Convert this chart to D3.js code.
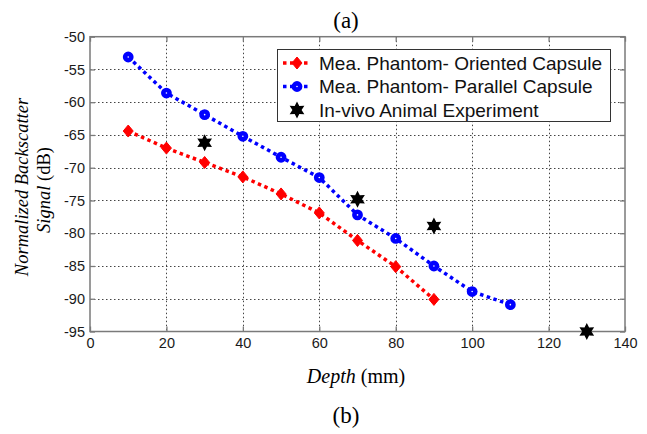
<!DOCTYPE html>
<html>
<head>
<meta charset="utf-8">
<script src="https://cdn.jsdelivr.net/npm/d3@7"></script>
<style>
  html, body { margin: 0; padding: 0; background: #fff; }
  svg { display: block; }
</style>
</head>
<body>
<svg id="chart" width="647" height="434"></svg>
<script>
// Depth samples (mm)
const depthOriented = [10, 20, 30, 40, 50, 60, 70, 80, 90];
const depthParallel = [10, 20, 30, 40, 50, 60, 70, 80, 90, 100, 110];
const depthInVivo = [30, 70, 90, 130];

// Normalized backscatter signal (dB)
const orientedCapsule = [-64.4, -67.0, -69.2, -71.4, -74.0, -76.9, -81.1, -85.1, -90.1];
const parallelCapsule = [-53.1, -58.6, -61.9, -65.2, -68.4, -71.5, -77.2, -80.8, -85.0, -88.9, -90.9];
const inVivoAnimal = [-66.2, -74.8, -78.9, -95.0];

// Axis ticks
const xTicks = [0, 20, 40, 60, 80, 100, 120, 140];
const yTicks = [-95, -90, -85, -80, -75, -70, -65, -60, -55, -50];

const legendLabels = [
  "Mea. Phantom- Oriented Capsule",
  "Mea. Phantom- Parallel Capsule",
  "In-vivo Animal Experiment"
];

const svg = d3.select("#chart");
const pLeft = 90, pRight = 625, pTop = 36.7, pBottom = 331.5;

const x = d3.scaleLinear().domain([0, 140]).range([pLeft, pRight]);
const y = d3.scaleLinear().domain([-95, -50]).range([pBottom, pTop]);

// grid
const grid = svg.append("g").attr("stroke", "#444").attr("stroke-width", 1)
  .attr("stroke-dasharray", "1.5,2.5");
grid.selectAll(".gx").data(xTicks.slice(1, -1)).join("line")
  .attr("x1", d => Math.round(x(d)) + 0.5).attr("x2", d => Math.round(x(d)) + 0.5)
  .attr("y1", pTop).attr("y2", pBottom);
grid.selectAll(".gy").data(yTicks.slice(1, -1)).join("line")
  .attr("y1", d => Math.round(y(d)) + 0.5).attr("y2", d => Math.round(y(d)) + 0.5)
  .attr("x1", pLeft).attr("x2", pRight);

// axes with inward ticks on all sides
const tickFont = "'Liberation Sans', Arial, sans-serif";
const axisColor = "#7a7a7a";
function styleAxis(g) {
  g.select(".domain").remove();
  g.selectAll(".tick line").attr("stroke", axisColor).attr("stroke-width", 1.3);
  g.selectAll(".tick text").attr("fill", "#1a1a1a")
    .style("font-family", tickFont).style("font-size", "14.5px");
}
svg.append("g").attr("transform", `translate(0,${pBottom})`)
  .call(d3.axisBottom(x).tickValues(xTicks).tickSize(-5).tickPadding(6).tickFormat(d3.format("d")))
  .call(styleAxis);
svg.append("g").attr("transform", `translate(0,${pTop})`)
  .call(d3.axisTop(x).tickValues(xTicks).tickSize(-5).tickFormat(""))
  .call(styleAxis);
svg.append("g").attr("transform", `translate(${pLeft},0)`)
  .call(d3.axisLeft(y).tickValues(yTicks).tickSize(-5).tickPadding(5).tickFormat(d => d3.format("d")(d).replace("−", "-")))
  .call(styleAxis);
svg.append("g").attr("transform", `translate(${pRight},0)`)
  .call(d3.axisRight(y).tickValues(yTicks).tickSize(-5).tickFormat(""))
  .call(styleAxis);

svg.append("rect").attr("x", pLeft).attr("y", pTop)
  .attr("width", pRight - pLeft).attr("height", pBottom - pTop)
  .attr("fill", "none").attr("stroke", axisColor).attr("stroke-width", 1.5);

// hexagram marker path centered on 0,0
function hexagram(outer, inner) {
  const pts = [];
  for (let i = 0; i < 12; i++) {
    const a = -Math.PI / 2 + i * Math.PI / 6;
    const r = i % 2 === 0 ? outer : inner;
    pts.push([r * Math.cos(a), r * Math.sin(a)]);
  }
  return "M" + pts.map(p => p.join(",")).join("L") + "Z";
}
const starPath = hexagram(8.5, 4.6);
const diamondPath = "M0,-6L5,0L0,6L-5,0Z";

const line = d3.line().x(d => x(d[0])).y(d => y(d[1]));

const oriented = d3.zip(depthOriented, orientedCapsule);
const parallel = d3.zip(depthParallel, parallelCapsule);
const invivo = d3.zip(depthInVivo, inVivoAnimal);

const plot = svg.append("g");

plot.append("path").datum(oriented).attr("d", line)
  .attr("fill", "none").attr("stroke", "#ff0000").attr("stroke-width", 3.5)
  .attr("stroke-dasharray", "3.5,3.5");
plot.append("path").datum(parallel).attr("d", line)
  .attr("fill", "none").attr("stroke", "#0000ff").attr("stroke-width", 3.5)
  .attr("stroke-dasharray", "3.5,3.5");

plot.selectAll(".dia").data(oriented).join("path")
  .attr("d", diamondPath)
  .attr("transform", d => `translate(${x(d[0])},${y(d[1])})`)
  .attr("fill", "#ff0000").attr("stroke", "#ff0000").attr("stroke-width", 1);

plot.selectAll(".circ").data(parallel).join("circle")
  .attr("cx", d => x(d[0])).attr("cy", d => y(d[1])).attr("r", 3.1)
  .attr("fill", "#fff").attr("stroke", "#0000ff").attr("stroke-width", 4.6);

plot.selectAll(".star").data(invivo).join("path")
  .attr("d", starPath)
  .attr("transform", d => `translate(${x(d[0])},${y(d[1])})`)
  .attr("fill", "#000");

// legend
const lg = svg.append("g");
lg.append("rect").attr("x", 277.5).attr("y", 49.5).attr("width", 333).attr("height", 72)
  .attr("fill", "#fff").attr("stroke", "#333").attr("stroke-width", 1);
const rows = [63, 86.5, 110];
[["#ff0000", "dia"], ["#0000ff", "circ"]].forEach(([c, kind], i) => {
  lg.append("line").attr("x1", 283).attr("x2", 311).attr("y1", rows[i]).attr("y2", rows[i])
    .attr("stroke", c).attr("stroke-width", 3.5).attr("stroke-dasharray", "3.5,3.5");
  if (kind === "dia") {
    lg.append("path").attr("d", diamondPath).attr("transform", `translate(297,${rows[i]})`)
      .attr("fill", c).attr("stroke", c);
  } else {
    lg.append("circle").attr("cx", 297).attr("cy", rows[i]).attr("r", 3.1)
      .attr("fill", "#fff").attr("stroke", c).attr("stroke-width", 4.6);
  }
});
lg.append("path").attr("d", starPath).attr("transform", `translate(297,${rows[2]})`).attr("fill", "#000");
lg.selectAll(".lt").data(legendLabels).join("text")
  .attr("x", 319).attr("y", (d, i) => rows[i]).attr("dy", "0.35em")
  .style("font-family", tickFont).style("font-size", "19px").attr("fill", "#111")
  .text(d => d);

// titles and axis labels
const serif = "'Liberation Serif', 'Times New Roman', serif";
svg.append("text").attr("x", 346).attr("y", 28).attr("text-anchor", "middle")
  .style("font-family", serif).style("font-size", "23px").text("(a)");
svg.append("text").attr("x", 346).attr("y", 423).attr("text-anchor", "middle")
  .style("font-family", serif).style("font-size", "23px").text("(b)");

const xl = svg.append("text").attr("x", 356).attr("y", 383).attr("text-anchor", "middle")
  .style("font-family", serif).style("font-size", "20px");
xl.append("tspan").style("font-style", "italic").text("Depth");
xl.append("tspan").text(" (mm)");

svg.append("text").attr("transform", "translate(28,187) rotate(-90)").attr("text-anchor", "middle")
  .style("font-family", serif).style("font-size", "18.5px").style("font-style", "italic")
  .text("Normalized Backscatter");
const yl2 = svg.append("text").attr("transform", "translate(50,190) rotate(-90)").attr("text-anchor", "middle")
  .style("font-family", serif).style("font-size", "18.5px");
yl2.append("tspan").style("font-style", "italic").text("Signal");
yl2.append("tspan").text(" (dB)");
</script>
</body>
</html>
